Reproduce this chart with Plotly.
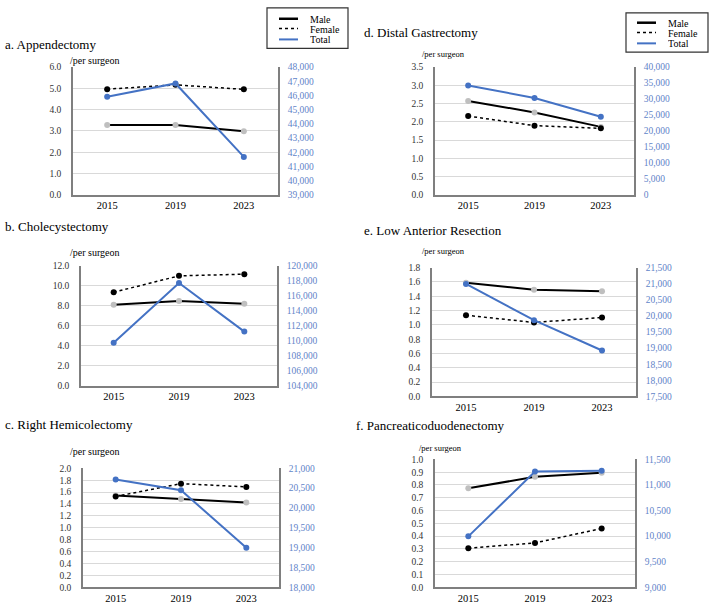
import plotly.graph_objects as go

W, H = 709, 610

years = ["2015", "2019", "2023"]

# a. Appendectomy
app_male = [3.28, 3.28, 2.98]
app_female = [4.96, 5.16, 4.95]
app_total = [45900, 46840, 41670]
# b. Cholecystectomy
cho_male = [8.10, 8.46, 8.20]
cho_female = [9.34, 10.98, 11.15]
cho_total = [109730, 117680, 111210]
# c. Right Hemicolectomy
rhc_male = [1.544, 1.484, 1.423]
rhc_female = [1.527, 1.742, 1.687]
rhc_total = [20720, 20448, 18997]
# d. Distal Gastrectomy
dg_male = [2.57, 2.255, 1.86]
dg_female = [2.156, 1.894, 1.82]
dg_total = [34230, 30310, 24430]
# e. Low Anterior Resection
lar_male = [1.59, 1.49, 1.47]
lar_female = [1.135, 1.034, 1.103]
lar_total = [20994, 19870, 18928]
# f. Pancreaticoduodenectomy
pd_male = [0.774, 0.864, 0.895]
pd_female = [0.306, 0.347, 0.46]
pd_total = [9996, 11262, 11281]

titles = ["a. Appendectomy", "b. Cholecystectomy", "c. Right Hemicolectomy",
          "d. Distal Gastrectomy", "e. Low Anterior Resection", "f. Pancreaticoduodenectomy"]
unit_label = "/per surgeon"
series_names = ["Male", "Female", "Total"]

left_ranges = [(0, 6, 1.0), (0, 12, 2.0), (0, 2, 0.2), (0, 3.5, 0.5), (0, 1.8, 0.2), (0, 1.0, 0.1)]
right_ranges = [(39000, 48000, 1000), (104000, 120000, 2000), (18000, 21000, 500),
                (0, 40000, 5000), (17500, 21500, 500), (9000, 11500, 500)]
male_data = [app_male, cho_male, rhc_male, dg_male, lar_male, pd_male]
female_data = [app_female, cho_female, rhc_female, dg_female, lar_female, pd_female]
total_data = [app_total, cho_total, rhc_total, dg_total, lar_total, pd_total]

# layout in pixels: (x0, x1, ytop, ybottom)
boxes = [(73, 278, 63, 193), (81, 277, 265, 387), (83, 279, 471, 592),
         (435, 634, 63, 193), (432, 636, 267, 398), (435, 635, 462, 592)]
title_pos = [(3, 40), (3, 225), (3, 426), (362, 28), (362, 229), (354, 428)]
unit_pos = [(68, 56, 10), (68, 252, 10), (68, 454, 10), (420, 50, 8.5), (420, 250, 8.5), (417, 450, 8.5)]

FONT = "Liberation Serif"
BLUE = "#4472C4"
RLAB = "#5f84c9"
AXC = "#7f7f7f"
GRID = "#d9d9d9"

def px(x):
    return x / W

def py(y):
    return 1 - y / H

fig = go.Figure()
layout = {}
annotations = []
shapes = []

for i in range(6):
    n = i + 1
    xa = "x" if n == 1 else f"x{n}"
    ya_l = f"y{2*n-1}" if n > 1 else "y"
    ya_r = f"y{2*n}"
    x0, x1, yt, yb = boxes[i]
    lo, hi, dt = left_ranges[i]
    rlo, rhi, rdt = right_ranges[i]

    fig.add_trace(go.Scatter(x=years, y=male_data[i], xaxis=xa, yaxis=ya_l, mode="lines+markers",
                             name=series_names[0], showlegend=False,
                             line=dict(color="black", width=2),
                             marker=dict(color="#bfbfbf", size=6)))
    fig.add_trace(go.Scatter(x=years, y=female_data[i], xaxis=xa, yaxis=ya_l, mode="lines+markers",
                             name=series_names[1], showlegend=False,
                             line=dict(color="black", width=1.5, dash="dot"),
                             marker=dict(color="black", size=6)))
    fig.add_trace(go.Scatter(x=years, y=total_data[i], xaxis=xa, yaxis=ya_r, mode="lines+markers",
                             name=series_names[2], showlegend=False,
                             line=dict(color=BLUE, width=2),
                             marker=dict(color=BLUE, size=6)))

    xkey = "xaxis" if n == 1 else f"xaxis{n}"
    ylkey = "yaxis" if n == 1 else f"yaxis{2*n-1}"
    yrkey = f"yaxis{2*n}"
    layout[xkey] = dict(domain=[px(x0), px(x1)], anchor=ya_l, type="category",
                        range=[-0.5, 2.5], showline=True, linecolor=AXC, linewidth=1.5,
                        showgrid=False, ticks="", ticklabelstandoff=0,
                        tickfont=dict(family=FONT, size=10.5, color="black"),
                        fixedrange=True)
    layout[ylkey] = dict(domain=[py(yb), py(yt)], anchor=xa, range=[lo, hi], dtick=dt, tick0=0,
                         tickformat=".1f", showline=True, linecolor=AXC, linewidth=1.5,
                         showgrid=True, gridcolor=GRID, gridwidth=1, zeroline=False,
                         ticks="", ticklabelstandoff=8,
                         tickfont=dict(family=FONT, size=9.5, color="#333333"))
    layout[yrkey] = dict(domain=[py(yb), py(yt)], anchor=xa, overlaying=ya_l, side="right",
                         range=[rlo, rhi], dtick=rdt, tick0=rlo, tickformat=",d",
                         showline=True, linecolor=AXC, linewidth=1.5, showgrid=False,
                         zeroline=False, ticks="", ticklabelstandoff=6,
                         tickfont=dict(family=FONT, size=9.5, color=RLAB))
    tx, tyy = title_pos[i]
    annotations.append(dict(x=px(tx), y=py(tyy), xref="paper", yref="paper", text=titles[i],
                            showarrow=False, xanchor="left", yanchor="middle",
                            font=dict(family=FONT, size=13, color="black")))
    ux, uy, us = unit_pos[i]
    annotations.append(dict(x=px(ux), y=py(uy), xref="paper", yref="paper", text=unit_label,
                            showarrow=False, xanchor="left", yanchor="middle",
                            font=dict(family=FONT, size=us, color="black")))

# legends (drawn as boxes with line samples)
legend_boxes = [(267, 348, 3, 44, 279, 298, 308, [14, 24, 35]),
                (626, 708, 8, 48, 637, 656, 666, [18, 28, 39])]
leg_styles = [dict(color="black", width=2.5), dict(color="black", width=1.5, dash="dot"),
              dict(color=BLUE, width=2)]
for (bx0, bx1, by0, by1, lx0, lx1, tx, ys) in legend_boxes:
    shapes.append(dict(type="rect", xref="paper", yref="paper", x0=px(bx0), x1=px(bx1),
                       y0=py(by1), y1=py(by0), line=dict(color="#333333", width=1.2),
                       fillcolor="white"))
    for k in range(3):
        shapes.append(dict(type="line", xref="paper", yref="paper", x0=px(lx0), x1=px(lx1),
                           y0=py(ys[k]), y1=py(ys[k]), line=leg_styles[k]))
        annotations.append(dict(x=px(tx), y=py(ys[k]), xref="paper", yref="paper",
                                text=series_names[k], showarrow=False, xanchor="left",
                                yanchor="middle", height=10,
                                font=dict(family=FONT, size=10, color="black")))

fig.update_layout(width=W, height=H, margin=dict(l=0, r=0, t=0, b=0),
                  paper_bgcolor="white", plot_bgcolor="white", showlegend=False,
                  annotations=annotations, shapes=shapes, **layout)

fig.write_html("out.html")
